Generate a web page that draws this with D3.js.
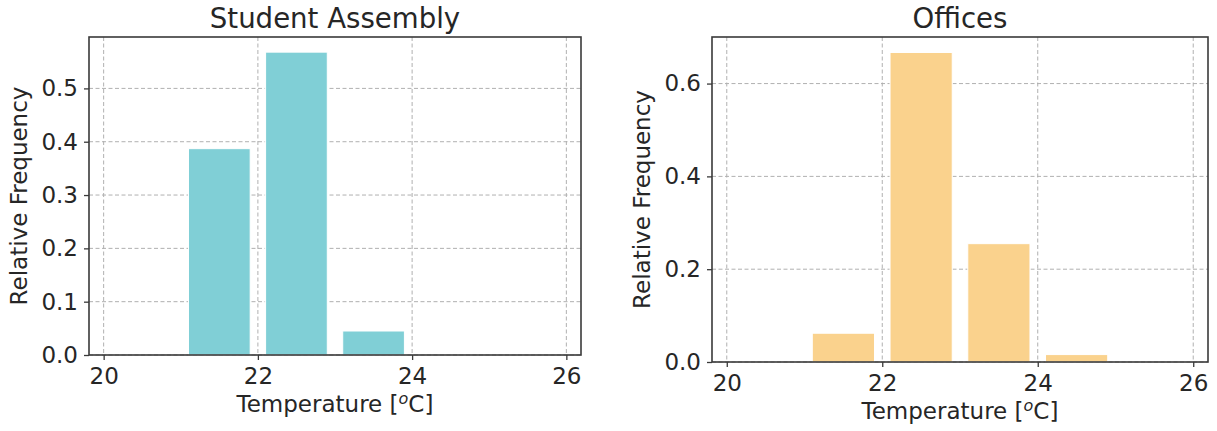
<!DOCTYPE html>
<html>
<head>
<meta charset="utf-8">
<script src="https://cdn.jsdelivr.net/npm/d3@7"></script>
<style>
  html, body { margin: 0; padding: 0; background: #fff; }
  svg { display: block; font-family: "DejaVu Sans", sans-serif; }
</style>
</head>
<body>
<svg id="chart" width="1217" height="431"></svg>
<script>
// Lower edges of the 1 °C temperature bins
const binStarts = [20, 21, 22, 23, 24, 25];

// Relative frequency per bin
const studentAssembly = [0, 0.387, 0.568, 0.045, 0, 0];
const offices = [0, 0.062, 0.667, 0.255, 0.016, 0];

// Tick labels
const xTicks = [20, 22, 24, 26];
const yTicksAssembly = [0.0, 0.1, 0.2, 0.3, 0.4, 0.5];
const yTicksOffices = [0.0, 0.2, 0.4, 0.6];

const panels = [
  { title: "Student Assembly", values: studentAssembly, color: "#80cfd6",
    yTicks: yTicksAssembly, box: { left: 89, right: 581, top: 37, bottom: 355 } },
  { title: "Offices", values: offices, color: "#fad28d",
    yTicks: yTicksOffices, box: { left: 712, right: 1208, top: 37, bottom: 362 } }
];

const svg = d3.select("#chart");
const textColor = "#262626";
const fontSize = 23;
const rwidth = 0.8;

panels.forEach(p => {
  const b = p.box;
  const g = svg.append("g");

  // x limits: bar extents plus a 5% margin on each side
  const lo = binStarts[0] + (1 - rwidth) / 2;
  const hi = binStarts[binStarts.length - 1] + 1 - (1 - rwidth) / 2;
  const pad = 0.05 * (hi - lo);
  const x = d3.scaleLinear().domain([lo - pad, hi + pad]).range([b.left, b.right]);
  const y = d3.scaleLinear().domain([0, d3.max(p.values) * 1.05]).range([b.bottom, b.top]);

  // dashed grid
  const grid = g.append("g")
    .attr("stroke", "#b0b0b0").attr("stroke-width", 1).attr("stroke-dasharray", "4,2.5");
  grid.selectAll("line.v").data(xTicks).join("line")
    .attr("x1", d => x(d)).attr("x2", d => x(d))
    .attr("y1", b.top).attr("y2", b.bottom);
  grid.selectAll("line.h").data(p.yTicks).join("line")
    .attr("y1", d => y(d)).attr("y2", d => y(d))
    .attr("x1", b.left).attr("x2", b.right);

  // histogram bars
  const bars = binStarts.map((s, i) => ({ s, v: p.values[i] })).filter(d => d.v > 0);
  g.selectAll("rect.bar").data(bars).join("rect")
    .attr("class", "bar")
    .attr("x", d => x(d.s + (1 - rwidth) / 2))
    .attr("width", d => x(d.s + 1 - (1 - rwidth) / 2) - x(d.s + (1 - rwidth) / 2))
    .attr("y", d => y(d.v))
    .attr("height", d => y(0) - y(d.v))
    .attr("fill", p.color)
    .attr("stroke", "#ffffff").attr("stroke-width", 1);

  // axes
  const xAxis = d3.axisBottom(x).tickValues(xTicks).tickFormat(d3.format("d"))
    .tickSize(5).tickPadding(7);
  const yAxis = d3.axisLeft(y).tickValues(p.yTicks).tickFormat(d3.format(".1f"))
    .tickSize(5).tickPadding(6);

  const gx = g.append("g").attr("transform", `translate(0,${b.bottom})`).call(xAxis);
  const gy = g.append("g").attr("transform", `translate(${b.left},0)`).call(yAxis);
  [gx, gy].forEach(a => {
    a.select(".domain").remove();
    a.selectAll(".tick line").attr("stroke", "#3a3a3a").attr("stroke-width", 1.3);
    a.selectAll(".tick text").attr("fill", textColor)
      .style("font-size", fontSize + "px").style("font-family", "DejaVu Sans");
  });
  gx.selectAll(".tick text").attr("dy", "0.72em");

  // frame
  g.append("rect")
    .attr("x", b.left).attr("y", b.top)
    .attr("width", b.right - b.left).attr("height", b.bottom - b.top)
    .attr("fill", "none").attr("stroke", "#3a3a3a").attr("stroke-width", 1.6);

  // titles and axis labels
  g.append("text")
    .attr("x", (b.left + b.right) / 2).attr("y", 28)
    .attr("text-anchor", "middle").attr("fill", textColor)
    .style("font-size", (fontSize * 1.2) + "px")
    .text(p.title);

  const xl = g.append("text")
    .attr("x", (b.left + b.right) / 2).attr("y", b.bottom + 57)
    .attr("text-anchor", "middle").attr("fill", textColor)
    .style("font-size", fontSize + "px");
  xl.append("tspan").text("Temperature [");
  xl.append("tspan").attr("dy", -8).style("font-size", "16px").style("font-style", "italic").text("o");
  xl.append("tspan").attr("dy", 8).text("C]");

  g.append("text")
    .attr("transform", `translate(${b.left - 62},${(b.top + b.bottom) / 2}) rotate(-90)`)
    .attr("text-anchor", "middle").attr("fill", textColor)
    .style("font-size", fontSize + "px")
    .text("Relative Frequency");
});
</script>
</body>
</html>
